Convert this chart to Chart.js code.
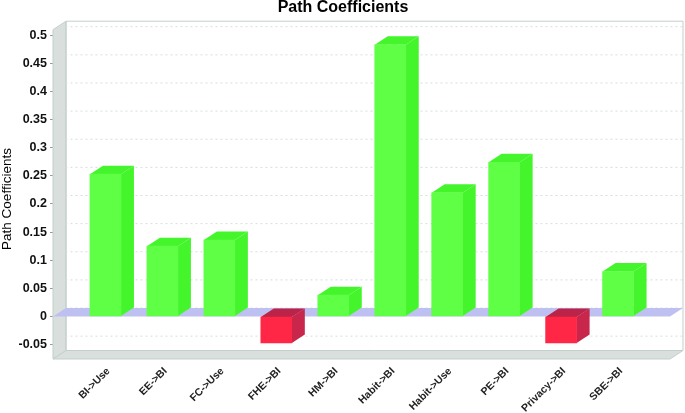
<!DOCTYPE html>
<html lang="en">
<head>
    <meta charset="UTF-8">
    <title>Path Coefficients</title>
    <script src="https://cdn.jsdelivr.net/npm/chart.js@4"></script>
    <style>
        html, body { margin: 0; padding: 0; background: #fff; }
        #wrap { width: 685px; height: 413px; overflow: hidden; }
        #grafico { filter: blur(0.35px); }
    </style>
</head>
<body>
    <div id="wrap"><canvas id="grafico" width="685" height="413"></canvas></div>

    <script>
    const categorias = ['BI->Use', 'EE->BI', 'FC->Use', 'FHE->BI', 'HM->BI', 'Habit->BI', 'Habit->Use', 'PE->BI', 'Privacy->BI', 'SBE->BI'];
    const coeficientes = [0.253, 0.125, 0.136, -0.047, 0.038, 0.483, 0.22, 0.274, -0.047, 0.08];
    const marcasY = [-0.05, 0, 0.05, 0.1, 0.15, 0.2, 0.25, 0.3, 0.35, 0.4, 0.45, 0.5];

    // depth of the fake 3d box
    const fondoX = 13;
    const fondoY = -8.5;
    const anchoBarra = 31;

    function poligono(ctx, puntos, relleno, borde) {
      ctx.beginPath();
      puntos.forEach(function (p, i) {
        if (i === 0) ctx.moveTo(p[0], p[1]);
        else ctx.lineTo(p[0], p[1]);
      });
      ctx.closePath();
      ctx.fillStyle = relleno;
      ctx.fill();
      if (borde) {
        ctx.strokeStyle = borde;
        ctx.lineWidth = 1;
        ctx.stroke();
      }
    }

    const caja3d = {
      id: 'caja3d',
      beforeDatasetsDraw(chart) {
        const ctx = chart.ctx;
        const a = chart.chartArea;
        const y = chart.scales.y;
        const dx = fondoX, dy = fondoY;
        ctx.save();

        // left wall and floor
        poligono(ctx, [[a.left, a.top], [a.left + dx, a.top + dy], [a.left + dx, a.bottom + dy], [a.left, a.bottom]], '#d9dfdc', '#c3cfca');
        poligono(ctx, [[a.left, a.bottom], [a.left + dx, a.bottom + dy], [a.right + dx, a.bottom + dy], [a.right, a.bottom]], '#d9dfdc', '#c3cfca');

        // back wall edges
        ctx.strokeStyle = '#c3cfca';
        ctx.lineWidth = 1;
        ctx.beginPath();
        ctx.moveTo(a.left + dx, a.bottom + dy);
        ctx.lineTo(a.left + dx, a.top + dy);
        ctx.lineTo(a.right + dx, a.top + dy);
        ctx.lineTo(a.right + dx, a.bottom + dy);
        ctx.stroke();

        // dotted grid on the back wall and left wall
        ctx.strokeStyle = '#d5dfdb';
        ctx.setLineDash([2, 3]);
        marcasY.forEach(function (v) {
          const py = y.getPixelForValue(v);
          ctx.beginPath();
          ctx.moveTo(a.left, py);
          ctx.lineTo(a.left + dx, py + dy);
          ctx.lineTo(a.right + dx, py + dy);
          ctx.stroke();
        });
        ctx.setLineDash([]);

        // zero band
        const cero = y.getPixelForValue(0);
        poligono(ctx, [[a.left, cero], [a.left + dx, cero + dy], [a.right + dx, cero + dy], [a.right, cero]], '#bfc0f2');

        // sides and tops of the bars
        chart.getDatasetMeta(0).data.forEach(function (barra, i) {
          const v = coeficientes[i];
          const izq = barra.x - anchoBarra / 2;
          const der = barra.x + anchoBarra / 2;
          const arriba = Math.min(barra.y, barra.base);
          const abajo = Math.max(barra.y, barra.base);
          const lado = v < 0 ? '#c8264a' : '#45f52c';
          const tapa = v < 0 ? '#bb2348' : '#45f52c';
          poligono(ctx, [[der, arriba], [der + dx, arriba + dy], [der + dx, abajo + dy], [der, abajo]], lado);
          poligono(ctx, [[izq, arriba], [izq + dx, arriba + dy], [der + dx, arriba + dy], [der, arriba]], tapa);
        });
        ctx.restore();
      },
      afterDraw(chart) {
        // both titles are off the plot centre, so they are placed by hand
        const ctx = chart.ctx;
        ctx.save();
        ctx.fillStyle = '#000';
        ctx.textAlign = 'center';
        ctx.textBaseline = 'middle';
        ctx.font = 'bold 16px "Liberation Sans"';
        ctx.fillText('Path Coefficients', 343, 8);
        ctx.translate(7, 199);
        ctx.rotate(-Math.PI / 2);
        ctx.font = '13.5px "Liberation Sans"';
        ctx.fillText('Path Coefficients', 0, 0);
        ctx.restore();
      }
    };

    new Chart(document.getElementById('grafico'), {
      type: 'bar',
      data: {
        datasets: [{
          label: 'Path Coefficients',
          data: coeficientes.map(function (v, i) { return { x: i, y: v }; }),
          backgroundColor: coeficientes.map(function (v) { return v < 0 ? '#ff2646' : '#5eff45'; }),
          borderWidth: 0,
          barThickness: anchoBarra
        }]
      },
      plugins: [caja3d],
      options: {
        responsive: false,
        animation: false,
        layout: { padding: { right: 15, top: 29.7, left: 0, bottom: 0 } },
        plugins: {
          legend: { display: false },
          tooltip: { enabled: false },
          title: { display: false }
        },
        scales: {
          x: {
            type: 'linear',
            offset: false,
            min: -0.921,
            max: 9.912,
            afterBuildTicks(eje) { eje.ticks = categorias.map(function (c, i) { return { value: i }; }); },
            afterFit(eje) { eje.height = 54; },
            grid: { display: false },
            border: { display: false },
            ticks: {
              autoSkip: false,
              minRotation: 45,
              maxRotation: 45,
              padding: -2,
              labelOffset: 3,
              color: '#222',
              font: { family: 'Liberation Sans', size: 10.5, weight: 'bold' },
              callback: function (v) { return categorias[v]; }
            }
          },
          y: {
            min: -0.0755,
            max: 0.5098,
            afterBuildTicks(eje) { eje.ticks = marcasY.map(function (v) { return { value: v }; }); },
            afterFit(eje) { eje.width = 53; },
            grid: { drawOnChartArea: false, tickLength: 3, color: '#999' },
            border: { display: false },
            ticks: {
              padding: 3,
              color: '#111',
              font: { family: 'Liberation Sans', size: 12.5, weight: 'bold' },
              callback: function (v) { return String(Math.round(v * 100) / 100); }
            }
          }
        }
      }
    });
    </script>
</body>
</html>
